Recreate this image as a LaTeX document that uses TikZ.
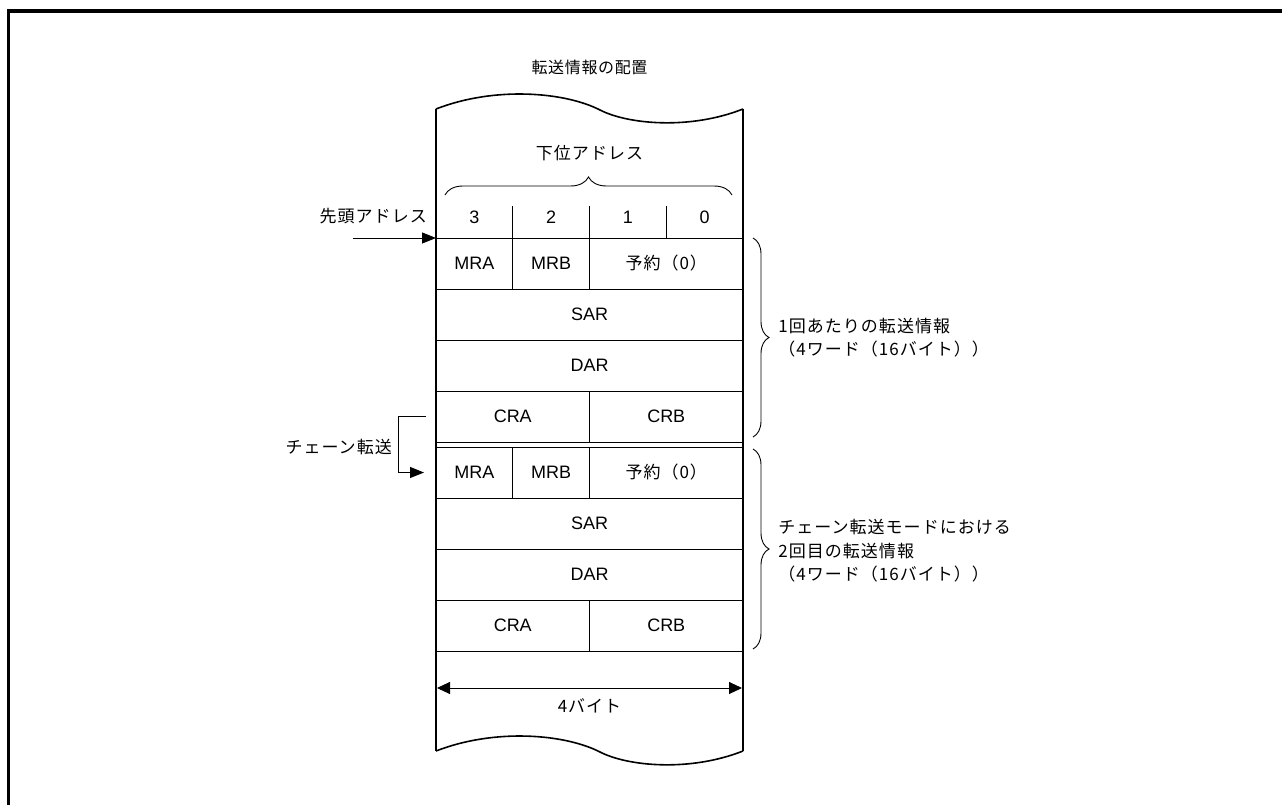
\documentclass[tikz,border=0pt]{standalone}
\usepackage{fontspec}
\setmainfont{Liberation Sans}
\newfontfamily\jpfont[LetterSpace=6]{Noto Sans CJK JP}
\newfontfamily\jptitlefont[LetterSpace=4]{Noto Sans CJK JP}
\usetikzlibrary{arrows.meta,positioning,decorations.pathreplacing}
\tikzset{
  cell/.style={draw=black, line width=0.9pt, inner sep=0pt, outer sep=0pt,
    minimum height=51pt, font=\fontsize{18}{21}\selectfont},
  jpcell/.style={cell, font=\jpfont\fontsize{17}{20}\selectfont},
  quarter/.style={minimum width=76.75pt},
  half/.style={minimum width=153.5pt},
  whole/.style={minimum width=307pt},
  hcell/.style={inner sep=0pt, outer sep=0pt, minimum width=76.75pt, minimum height=42pt,
    font=\fontsize{18}{21}\selectfont},
  divider/.style={draw=black, line width=0.9pt},
  boxside/.style={draw=black, line width=1.6pt},
  flow/.style={-{Triangle[length=14pt,width=11pt]}, draw=black, line width=0.9pt},
  bytespan/.style={{Triangle[length=13pt,width=12pt]}-{Triangle[length=13pt,width=12pt]},
    draw=black, line width=0.9pt},
  curly/.style={decorate, decoration={brace, amplitude=#1}, draw=black, line width=0.9pt},
  curly/.default=16pt,
  jplabel/.style={font=\jpfont\fontsize{17}{23.5}\selectfont, inner sep=0pt, align=left},
  outerframe/.style={draw=black, line width=3.5pt},
}

\begin{document}
\begin{tikzpicture}[x=1pt,y=-1pt]
  \useasboundingbox (0,0) rectangle (1282,805);
  \draw[outerframe] (8.5,805) -- (8.5,11) -- (1282,11);

  \node[jplabel, font=\jptitlefont\fontsize{16}{20}\selectfont] (title) at (589.5,67) {転送情報の配置};

  % Header with the low address digits.
  \node[hcell, anchor=south west] (d3) at (436,238) {3};
  \node[hcell, right=0pt of d3] (d2) {2};
  \node[hcell, right=0pt of d2] (d1) {1};
  \node[hcell, right=0pt of d1] (d0) {0};
  \draw[divider] ([yshift=-10pt]d3.north east) -- (d3.south east);
  \draw[divider] ([yshift=-10pt]d2.north east) -- (d2.south east);
  \draw[divider] ([yshift=-10pt]d1.north east) -- (d1.south east);
  \draw[curly=18pt] ([shift={(9pt,1pt)}]d3.north west) -- ([shift={(-11pt,1pt)}]d0.north east);
  \node[jplabel] (lowaddr) at ([yshift=43pt]d2.north east) {下位アドレス};

  % First transfer information block.
  \node[cell, quarter, anchor=north west] (mraA) at (436,238) {MRA};
  \node[cell, quarter, right=0pt of mraA] (mrbA) {MRB};
  \node[jpcell, half, right=0pt of mrbA] (rsvA) {予約（0）};
  \node[cell, whole, below=0pt of mraA.south west, anchor=north west] (sarA) {SAR};
  \node[cell, whole, below=0pt of sarA] (darA) {DAR};
  \node[cell, half, below=0pt of darA.south west, anchor=north west] (craA) {CRA};
  \node[cell, half, right=0pt of craA] (crbA) {CRB};

  % Second block, for chain transfer.
  \node[cell, quarter, below=5pt of craA.south west, anchor=north west] (mraB) {MRA};
  \node[cell, quarter, right=0pt of mraB] (mrbB) {MRB};
  \node[jpcell, half, right=0pt of mrbB] (rsvB) {予約（0）};
  \node[cell, whole, below=0pt of mraB.south west, anchor=north west] (sarB) {SAR};
  \node[cell, whole, below=0pt of sarB] (darB) {DAR};
  \node[cell, half, below=0pt of darB.south west, anchor=north west] (craB) {CRA};
  \node[cell, half, right=0pt of craB] (crbB) {CRB};

  % Memory strip with torn top and bottom edges.
  \coordinate (topleft) at (436,109);
  \coordinate (topright) at (743,109);
  \coordinate (botleft) at (436,751);
  \coordinate (botright) at (743,751);
  \draw[boxside] (topleft) .. controls (495,86) and (565,92) .. (600,110)
    .. controls (628,124.4) and (690,130) .. (topright);
  \draw[boxside] (botleft) .. controls (495,728) and (565,734) .. (600,752)
    .. controls (628,766.4) and (690,772) .. (botright);
  \draw[boxside] (topleft) -- (botleft);
  \draw[boxside] (topright) -- (botright);

  % Start address and chain transfer pointers.
  \node[jplabel, anchor=east] (headaddr) at ([shift={(-9pt,22pt)}]mraA.north west) {先頭アドレス};
  \coordinate (headstart) at ([xshift=-83pt]mraA.north west);
  \draw[flow] (headstart) -- (mraA.north west);
  \draw[flow] ([xshift=-10pt]craA.west) -- ++(-28,0) |- ([xshift=-12pt]mraB.west);
  \node[jplabel, anchor=east] (chain) at ([shift={(-44pt,-30.5pt)}]craA.west) {チェーン転送};

  % Right-hand braces with block notes.
  \draw[curly] ([xshift=10pt]rsvA.north east) -- ([shift={(10pt,5pt)}]crbA.south east)
    node[jplabel, midway, right=25pt] {1回あたりの転送情報\\（4ワード（16バイト））};
  \draw[curly] ([shift={(10pt,-2pt)}]rsvB.north east) -- ([shift={(10pt,2pt)}]crbB.south east)
    node[jplabel, midway, right=25pt, yshift=-2pt] {チェーン転送モードにおける\\2回目の転送情報\\（4ワード（16バイト））};

  % Width of one word.
  \coordinate (spanL) at ([shift={(1pt,-37pt)}]craB.south west);
  \coordinate (spanR) at ([shift={(-1pt,-37pt)}]crbB.south east);
  \draw[bytespan] (spanL) -- (spanR);
  \node[jplabel] (bytes) at ([yshift=-55pt]craB.south east) {4バイト};
\end{tikzpicture}
\end{document}
